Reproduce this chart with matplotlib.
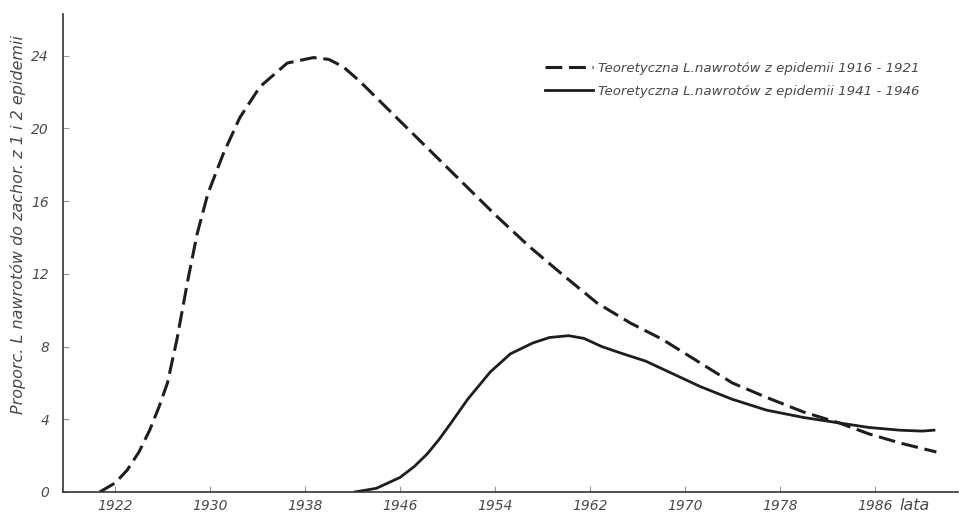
import numpy as np, matplotlib; matplotlib.use('Agg'); import matplotlib.pyplot as plt

yr_a=[1920.7,1922.0,1923.0,1924.0,1924.9,1925.7,1926.4,1927.2,1928.1,1928.9,1929.8,1931.1,1932.5,1934.2,1936.5,1938.7,1940.0,1941.2,1942.6,1945.7,1948.5,1951.3,1954.1,1956.9,1959.8,1962.6,1965.4,1968.1,1971.3,1974.0,1976.9,1980.0,1983.0,1985.5,1988.1,1991.2]
val_a=[0.0,0.5,1.2,2.2,3.4,4.7,6.0,8.4,11.6,14.2,16.4,18.6,20.6,22.3,23.6,23.9,23.8,23.4,22.6,20.6,18.8,17.0,15.2,13.5,11.9,10.4,9.3,8.4,7.1,6.0,5.2,4.4,3.8,3.2,2.7,2.2]
yr_b=[1942.2,1944.0,1946.0,1947.2,1948.3,1949.3,1950.3,1951.7,1953.6,1955.3,1957.2,1958.6,1960.2,1961.5,1963.0,1964.8,1966.7,1969.0,1971.3,1974.0,1976.9,1980.0,1983.0,1985.5,1988.1,1990.0,1991.0]
val_b=[0.0,0.2,0.8,1.4,2.1,2.9,3.8,5.1,6.6,7.6,8.2,8.5,8.6,8.45,8.0,7.6,7.2,6.5,5.8,5.1,4.5,4.1,3.8,3.55,3.4,3.35,3.4]
xticks=[1922,1930,1938,1946,1954,1962,1970,1978,1986]
yticks=[0,4,8,12,16,20,24]
lab_a='Teoretyczna L.nawrotów z epidemii 1916 - 1921'
lab_b='Teoretyczna L.nawrotów z epidemii 1941 - 1946'
ylab='Proporc. L nawrotów do zachor. z 1 i 2 epidemii'

fnt=dict(family='DejaVu Sans',style='italic')
tc='#4a4a4a'
fig=plt.figure(figsize=(9.61,5.17),dpi=100)
ax=fig.add_axes([0.0656,0.0484,0.931,0.9246])
ax.plot(yr_a,val_a,color='#1e1e1e',lw=2.2,ls=(0,(5.5,2.2)),label=lab_a)
ax.plot(yr_b,val_b,color='#1e1e1e',lw=2.0,label=lab_b)
ax.set_xlim(1917.6,1993.0); ax.set_ylim(0,26.3)
for s in ['top','right']: ax.spines[s].set_visible(False)
for s in ['left','bottom']: ax.spines[s].set_color('#333333'); ax.spines[s].set_linewidth(1.2)
ax.set_xticks(xticks); ax.set_yticks(yticks)
ax.set_xticklabels([str(t) for t in xticks],fontsize=10,color=tc,**fnt)
ax.set_yticklabels([str(t) for t in yticks],fontsize=10,color=tc,**fnt)
ax.tick_params(direction='in',length=4,width=0.8,color='#999999',pad=5)
ax.tick_params(axis='y',pad=10)
ax.text(1989.4,-0.35,'lata',fontsize=11.5,color=tc,ha='center',va='top',**fnt)
fig.text(0.019,0.565,ylab,rotation=90,fontsize=11.5,color=tc,ha='center',va='center',**fnt)
leg=ax.legend(loc='upper left',bbox_to_anchor=(0.525,0.925),frameon=False,handlelength=3.6,handletextpad=0.4,
              labelspacing=0.75,prop=dict(size=9.6,**fnt))
for t in leg.get_texts(): t.set_color(tc)
fig.savefig('out.png',dpi=100); plt.close(fig)
